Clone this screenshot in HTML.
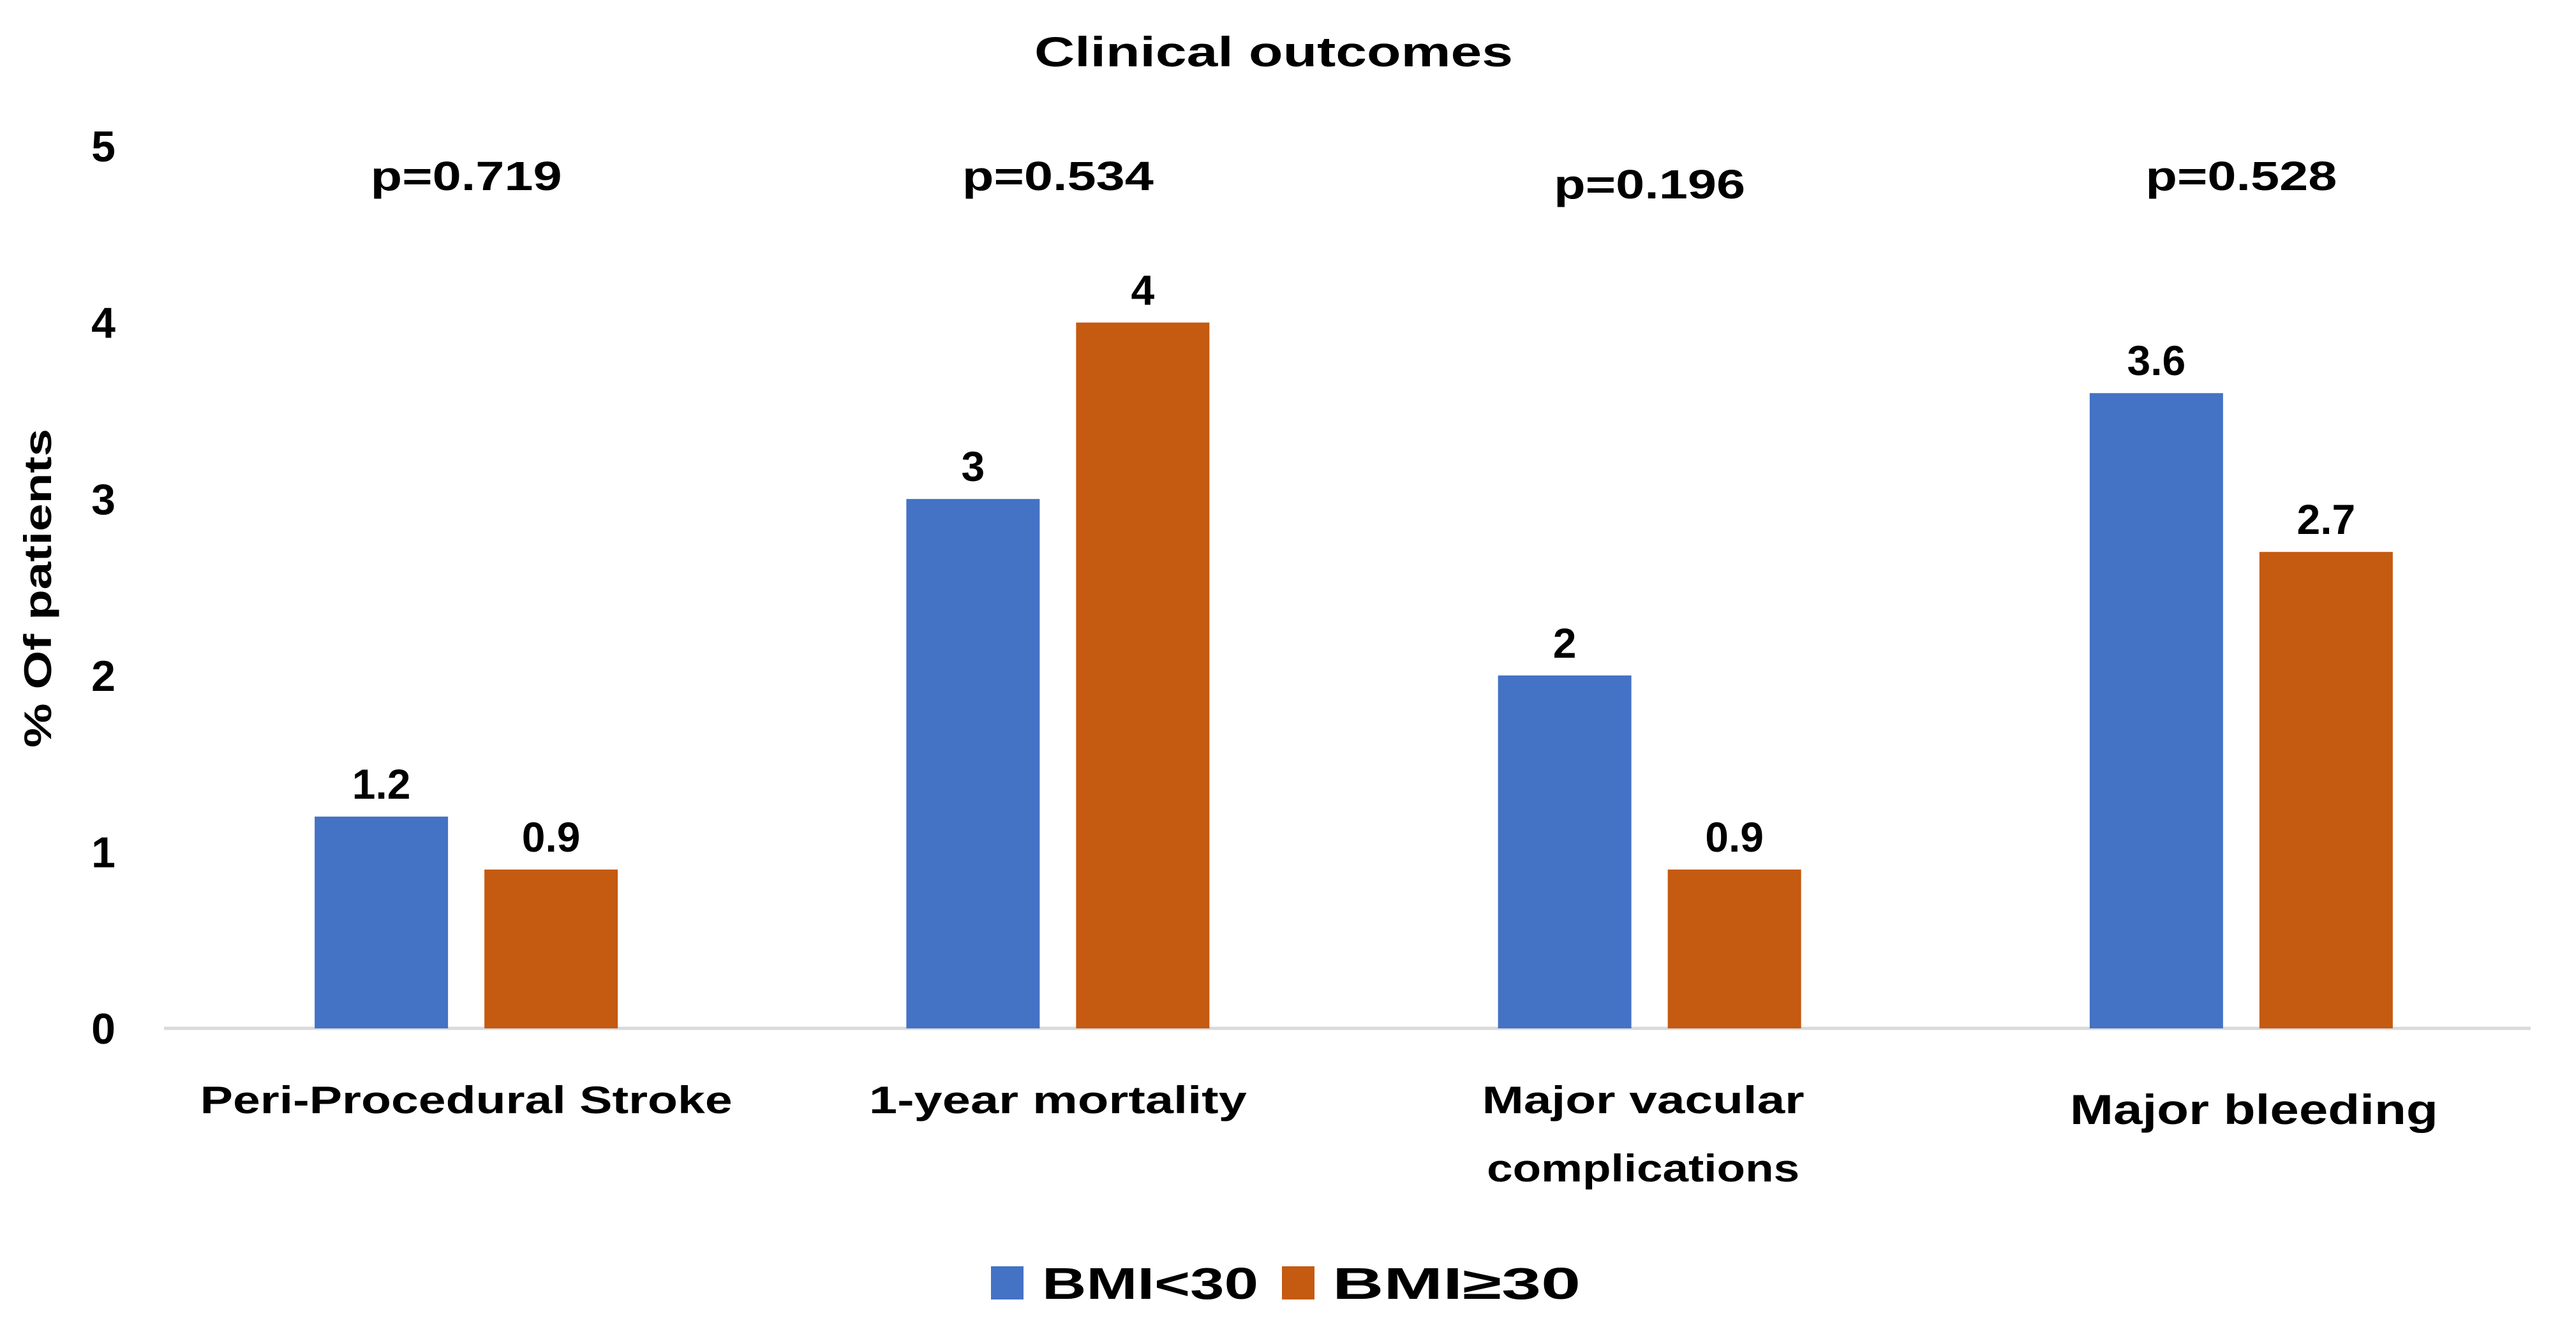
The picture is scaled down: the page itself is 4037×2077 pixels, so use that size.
<!DOCTYPE html>
<html><head><meta charset="utf-8"><style>
html,body{margin:0;padding:0;background:#fff;}
svg{display:block;}
text{font-family:"Liberation Sans",sans-serif;fill:#000;}
</style></head><body>
<svg id="chart" width="4037" height="2077" viewBox="0 0 4037 2077" xmlns="http://www.w3.org/2000/svg">
<text x="1996" y="104" font-size="66" font-weight="bold" text-anchor="middle" textLength="750" lengthAdjust="spacingAndGlyphs">Clinical outcomes</text>
<text transform="translate(80,922) rotate(-90)" font-size="60" font-weight="bold" text-anchor="middle" textLength="500" lengthAdjust="spacingAndGlyphs">% Of patients</text>
<g id="yticks"></g>
<line x1="257" y1="1612" x2="3966" y2="1612" stroke="#d9d9d9" stroke-width="5"/>
<g id="bars"></g>
<g id="labels"></g>
<g>
<rect x="1553" y="1985" width="51" height="52" fill="#4472C4"/>
<text x="1633" y="2036" font-size="70" font-weight="bold" textLength="339" lengthAdjust="spacingAndGlyphs">BMI&lt;30</text>
<rect x="2009" y="1985" width="51" height="52" fill="#C55A11"/>
<text x="2088" y="2036" font-size="70" font-weight="bold" textLength="389" lengthAdjust="spacingAndGlyphs">BMI≥30</text>
</g>
</svg>
<script>
const categories = ["Peri-Procedural Stroke","1-year mortality","Major vacular complications","Major bleeding"];
const bmiUnder30 = [1.2, 3, 2, 3.6];
const bmiOver30 = [0.9, 4, 0.9, 2.7];
const pValues = ["p=0.719","p=0.534","p=0.196","p=0.528"];
const yTicks = [0,1,2,3,4,5];

const NS="http://www.w3.org/2000/svg";
const plotLeft=257, plotRight=3966, baseY=1612, unit=276.6;
const catW=(plotRight-plotLeft)/categories.length;
const barW=209, gap=57, shift=10;
function yScale(v){return baseY - v*unit;}
function xCenter(i){return plotLeft + catW*(i+0.5) + shift;}
function mk(tag,attrs,parent,txt){const e=document.createElementNS(NS,tag);for(const k in attrs)e.setAttribute(k,attrs[k]);if(txt!==undefined)e.textContent=txt;parent.appendChild(e);return e;}

const yt=document.getElementById('yticks');
yTicks.forEach(t=>{
  const e=mk('text',{x:162,y:yScale(t)+24,'font-size':68,'font-weight':'bold','text-anchor':'middle'},yt,String(t));
  
  
});

const bg=document.getElementById('bars');
const lg=document.getElementById('labels');
const catLayouts=[
  {w:[834],y:[1745],fs:60,dx:0},
  {w:[592],y:[1745],fs:60,dx:0},
  {w:[505,490],y:[1745,1852],fs:60,dx:-10},
  {w:[577],y:[1762],fs:66,dx:20}
];
const pY=[298,298,311,298];
categories.forEach((c,i)=>{
  const cx=xCenter(i);
  const series=[[bmiUnder30[i],'#4472C4',cx-gap/2-barW,'bmi-under-30'],[bmiOver30[i],'#C55A11',cx+gap/2,'bmi-30-plus']];
  series.forEach(s=>{
    const r=mk('rect',{x:s[2],y:yScale(s[0]),width:barW,height:baseY-yScale(s[0]),fill:s[1]},bg);
    
    
    const t=mk('text',{x:s[2]+barW/2,y:yScale(s[0])-28,'font-size':66,'font-weight':'bold','text-anchor':'middle'},lg,String(s[0]));
    
    
  });
  const p=mk('text',{x:cx,y:pY[i],'font-size':64,'font-weight':'bold','text-anchor':'middle',textLength:300,lengthAdjust:'spacingAndGlyphs'},lg,pValues[i]);
  
  
  const L=catLayouts[i];
  const words=c.split(' ');
  let lines=L.w.length===2?[words.slice(0,2).join(' '),words.slice(2).join(' ')]:[c];
  lines.forEach((ln,j)=>{
    const t=mk('text',{x:cx+L.dx,y:L.y[j],'font-size':L.fs,'font-weight':'bold','text-anchor':'middle',textLength:L.w[j],lengthAdjust:'spacingAndGlyphs'},lg,ln);
    
    
  });
});
</script>
</body></html>
